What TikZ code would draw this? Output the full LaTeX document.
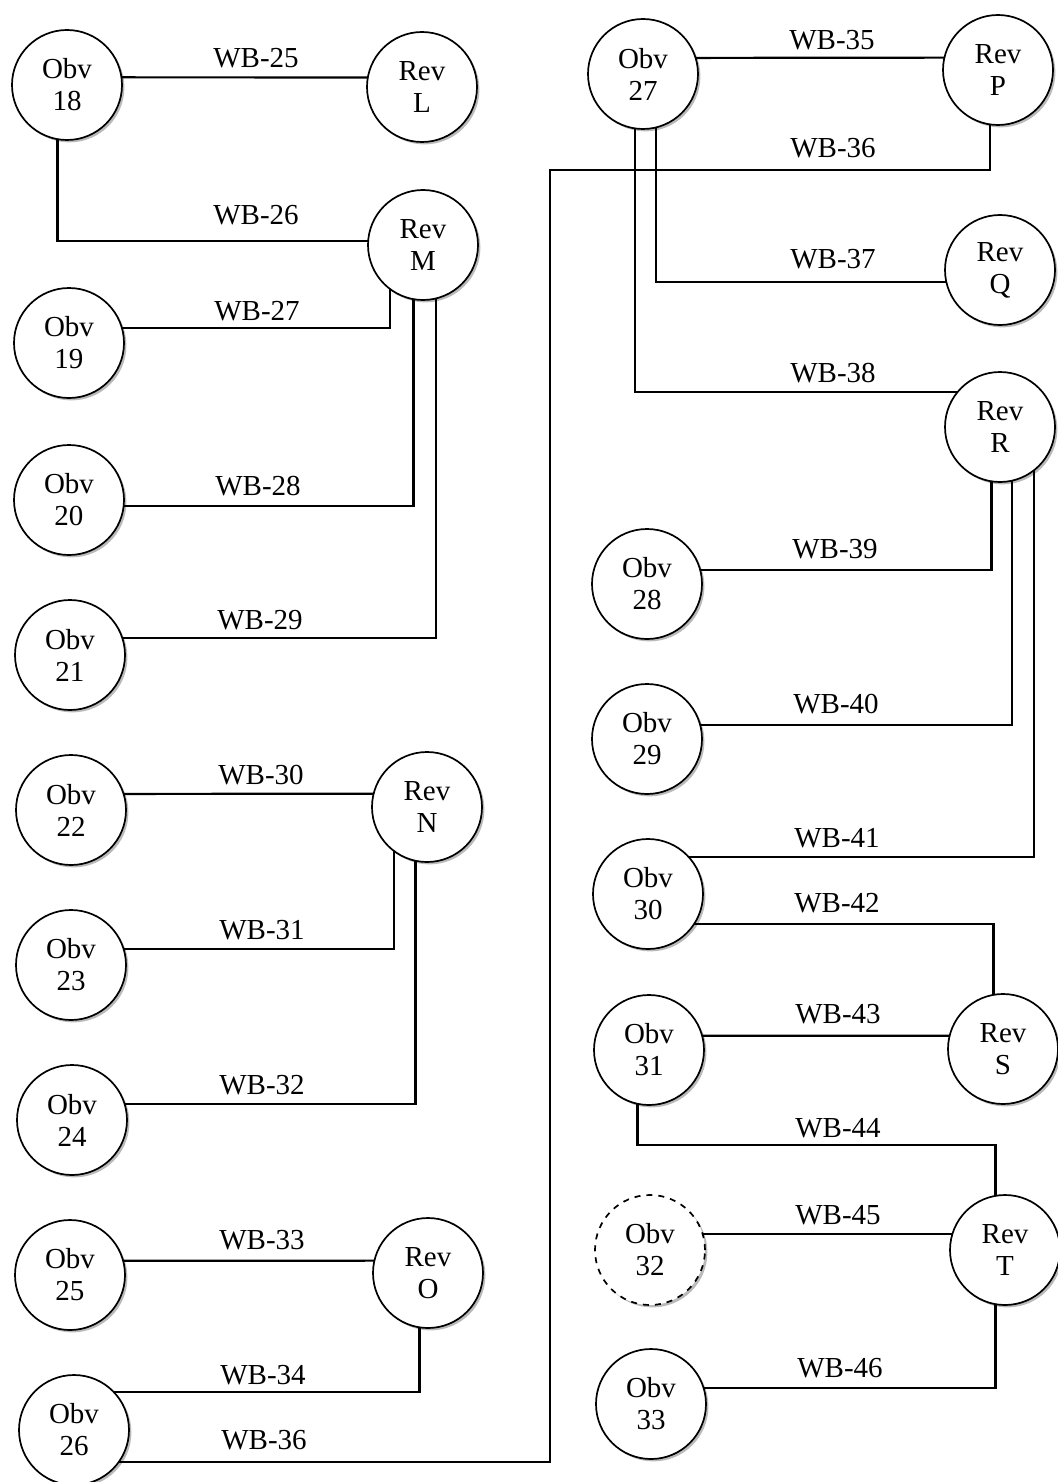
\documentclass[tikz,border=0pt]{standalone}
\usepackage{fontspec}
\setmainfont{Liberation Serif}
\usetikzlibrary{shadows}

\begin{document}
\begin{tikzpicture}[x=0.5pt,y=-0.5pt,
  coin/.style={circle,draw,line width=0.85pt,fill=white,minimum size=55pt,inner sep=0pt,outer sep=0pt,align=center,font=\fontsize{14.5}{16}\selectfont,drop shadow={shadow xshift=1.2pt,shadow yshift=-1.2pt,fill=black!45,opacity=0.6}},
  wire/.style={line width=1.1pt},
  lbl/.style={font=\fontsize{14.5}{16}\selectfont,inner sep=0pt}]
\useasboundingbox (0,0) rectangle (1057,1482);
% left column
\node[coin] (o18) at (67,85) {Obv\\18};
\node[coin] (rL) at (422,87) {Rev\\L};
\node[coin] (rM) at (423,245) {Rev\\M};
\node[coin] (o19) at (69,343) {Obv\\19};
\node[coin] (o20) at (69,500) {Obv\\20};
\node[coin] (o21) at (70,655) {Obv\\21};
\node[coin] (o22) at (71,810) {Obv\\22};
\node[coin] (rN) at (427,807) {Rev\\N};
\node[coin] (o23) at (71,965) {Obv\\23};
\node[coin] (o24) at (72,1120) {Obv\\24};
\node[coin] (o25) at (70,1275) {Obv\\25};
\node[coin] (rO) at (428,1273) {Rev\\O};
\node[coin] (o26) at (74,1430) {Obv\\26};
% right column
\node[coin] (o27) at (643,74) {Obv\\27};
\node[coin] (rP) at (998,70) {Rev\\P};
\node[coin] (rQ) at (1000,270) {Rev\\Q};
\node[coin] (rR) at (1000,427) {Rev\\R};
\node[coin] (o28) at (647,584) {Obv\\28};
\node[coin] (o29) at (647,739) {Obv\\29};
\node[coin] (o30) at (648,894) {Obv\\30};
\node[coin] (rS) at (1003,1049) {Rev\\S};
\node[coin] (o31) at (649,1050) {Obv\\31};
\node[coin,dashed] (o32) at (650,1250) {Obv\\32};
\node[coin] (rT) at (1005,1250) {Rev\\T};
\node[coin] (o33) at (651,1404) {Obv\\33};
\coordinate (bus) at (550,170);
\coordinate (k44) at (995,1145);
% wires
\draw[wire] (o18.8) -- (rL.170);
\draw[wire] (o18.260) |- (rM.176);
\draw[wire] (o19.16) -| (rM.233);
\draw[wire] (o20.-6) -| (rM.260);
\draw[wire] (o21.18) -| (rM.284);
\draw[wire] (o22.17) -- (rN.166);
\draw[wire] (o23.17) -| (rN.233);
\draw[wire] (o24.17) -| (rN.258);
\draw[wire] (o25.15) -- (rO.167);
\draw[wire] (o26.44) -| (rO.261);
\draw[wire] (o26.-36) -| (bus) -| (rP.262);
\draw[wire] (o27.17) -- (rP.167);
\draw[wire] (o27.284) |- (rQ.193);
\draw[wire] (o27.262) |- (rR.140);
\draw[wire] (o28.15) -| (rR.261);
\draw[wire] (o29.15) -| (rR.283);
\draw[wire] (o30.42) -| (rR.308);
\draw[wire] (o30.-33) -| (rS.100);
\draw[wire] (o31.15) -- (rS.166);
\draw[wire] (o31.258) |- (k44) -| (rT.100);
\draw[wire] (o32.17) -- (rT.163);
\draw[wire] (o33.17) -| (rT.260);
% labels
\node[lbl] (l25) at (256,58) {WB-25};
\node[lbl] (l26) at (256,215) {WB-26};
\node[lbl] (l27) at (257,311) {WB-27};
\node[lbl] (l28) at (258,486) {WB-28};
\node[lbl] (l29) at (260,620) {WB-29};
\node[lbl] (l30) at (261,775) {WB-30};
\node[lbl] (l31) at (262,930) {WB-31};
\node[lbl] (l32) at (262,1085) {WB-32};
\node[lbl] (l33) at (262,1240) {WB-33};
\node[lbl] (l34) at (263,1375) {WB-34};
\node[lbl] (l36a) at (264,1440) {WB-36};
\node[lbl] (l35) at (832,40) {WB-35};
\node[lbl] (l36b) at (833,148) {WB-36};
\node[lbl] (l37) at (833,259) {WB-37};
\node[lbl] (l38) at (833,373) {WB-38};
\node[lbl] (l39) at (835,549) {WB-39};
\node[lbl] (l40) at (836,704) {WB-40};
\node[lbl] (l41) at (837,838) {WB-41};
\node[lbl] (l42) at (837,903) {WB-42};
\node[lbl] (l43) at (838,1014) {WB-43};
\node[lbl] (l44) at (838,1128) {WB-44};
\node[lbl] (l45) at (838,1215) {WB-45};
\node[lbl] (l46) at (840,1368) {WB-46};
\end{tikzpicture}
\end{document}
